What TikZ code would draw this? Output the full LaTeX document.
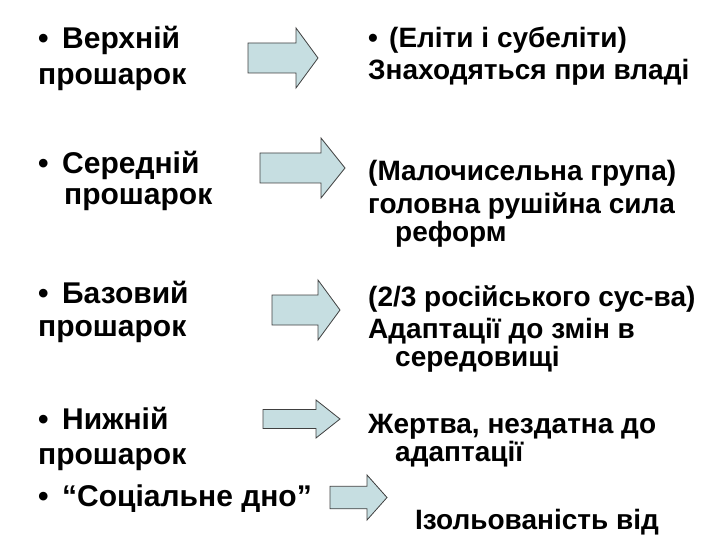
\documentclass[tikz,border=0pt]{standalone}
\usepackage{fontspec}
\setmainfont{Liberation Sans}
\begin{document}
\begin{tikzpicture}[x=1pt,y=-1pt,
  txt/.style={anchor=west,inner sep=0pt,font=\bfseries\fontsize{30}{34}\selectfont},
  rtxt/.style={anchor=west,inner sep=0pt,font=\bfseries\fontsize{28}{32}\selectfont},
  blk/.style={fill=arrfill,draw=black!75,line width=0.8pt}]
\definecolor{arrfill}{HTML}{C6DEE1}
\useasboundingbox (0,0) rectangle (720,540);
\clip (0,0) rectangle (720,540);
\newcommand\blockarrow[5]{% x1 y1 x2 y2 headlength
  \draw[blk] (#1,{#2+(#4-#2)*0.25}) -- ({#3-#5},{#2+(#4-#2)*0.25}) -- ({#3-#5},#2) -- (#3,{(#2+#4)/2}) -- ({#3-#5},#4) -- ({#3-#5},{#4-(#4-#2)*0.25}) -- (#1,{#4-(#4-#2)*0.25}) -- cycle;}
\blockarrow{248}{28}{318}{88}{22}
\blockarrow{260}{138}{345}{198}{24}
\blockarrow{272}{280}{340}{340}{22}
\blockarrow{263}{400}{340}{438}{24}
\blockarrow{330}{475}{387}{520}{20}
\node[txt] (l1) at (38,40) {•\hspace{0.45em}Верхній};
\node[txt] (l2) at (38,80) {прошарок};
\node[txt] (l3) at (38,165) {•\hspace{0.45em}Середній};
\node[txt] (l4) at (64,200) {прошарок};
\node[txt] (l5) at (38,292) {•\hspace{0.45em}Базовий};
\node[txt] (l6) at (38,332) {прошарок};
\node[txt] (l7) at (38,418) {•\hspace{0.45em}Нижній};
\node[txt] (l8) at (38,460) {прошарок};
\node[txt] (l9) at (38,499) {•\hspace{0.45em}“Соціальне дно”};
\node[rtxt] (r1) at (368,40) {•\hspace{0.4em}(Еліти і субеліти)};
\node[rtxt] (r2) at (368,72) {Знаходяться при владі};
\node[rtxt] (r3) at (368,173) {(Малочисельна група)};
\node[rtxt] (r4) at (368,206) {головна рушійна сила};
\node[rtxt] (r5) at (395,234) {реформ};
\node[rtxt] (r6) at (368,299) {(2/3 російського сус-ва)};
\node[rtxt] (r7) at (368,331) {Адаптації до змін в};
\node[rtxt] (r8) at (395,359) {середовищі};
\node[rtxt] (r9) at (368,427) {Жертва, нездатна до};
\node[rtxt] (r10) at (395,454) {адаптації};
\node[rtxt] (r11) at (415,522) {Ізольованість від};
\end{tikzpicture}
\end{document}
